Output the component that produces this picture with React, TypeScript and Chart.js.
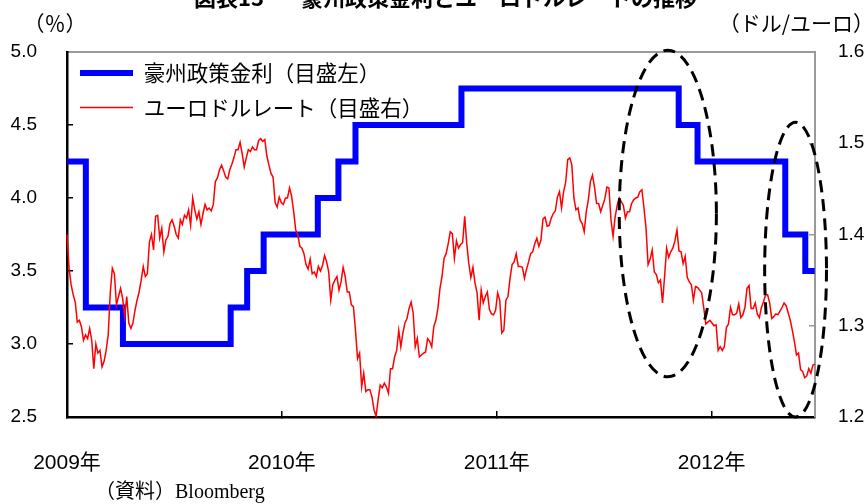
import React, { useEffect, useRef } from "react";
import { Chart, registerables } from "chart.js";

Chart.register(...registerables);

// ---- data ----
const baseDate = "2009-01-01";
const xTickYears = [2009, 2010, 2011, 2012];

// Australian policy rate (%), change dates and new levels
const rateDates = [
  "2009-01-01", "2009-02-02", "2009-04-06", "2009-10-06", "2009-11-03", "2009-12-01",
  "2010-03-03", "2010-04-07", "2010-05-06", "2010-11-02", "2011-11-06", "2011-12-08",
  "2012-05-05", "2012-06-08", "2012-06-24",
];
const rateValues = [4.25, 3.25, 3.0, 3.25, 3.5, 3.75, 4.0, 4.25, 4.5, 4.75, 4.5, 4.25, 3.75, 3.5, 3.5];

// EUR/USD (dollars per euro), sampled twice a week from 2009-01-01
const eurStepDays = 3.5;
const eurValues = [
  1.400, 1.363, 1.345, 1.334, 1.326, 1.304, 1.306, 1.299, 1.284, 1.290,
  1.286, 1.297, 1.284, 1.253, 1.280, 1.270, 1.273, 1.255, 1.261, 1.273,
  1.290, 1.336, 1.363, 1.357, 1.323, 1.332, 1.341, 1.330, 1.310, 1.332,
  1.303, 1.297, 1.303, 1.317, 1.328, 1.337, 1.350, 1.365, 1.354, 1.357,
  1.392, 1.400, 1.383, 1.420, 1.421, 1.396, 1.407, 1.381, 1.394, 1.398,
  1.412, 1.416, 1.409, 1.400, 1.396, 1.416, 1.411, 1.421, 1.418, 1.427,
  1.410, 1.440, 1.427, 1.417, 1.425, 1.411, 1.423, 1.433, 1.427, 1.429,
  1.426, 1.433, 1.458, 1.462, 1.471, 1.476, 1.470, 1.463, 1.461, 1.471,
  1.477, 1.484, 1.493, 1.493, 1.501, 1.489, 1.474, 1.484, 1.493, 1.491,
  1.496, 1.493, 1.493, 1.503, 1.505, 1.502, 1.504, 1.486, 1.476, 1.467,
  1.463, 1.435, 1.430, 1.441, 1.435, 1.433, 1.440, 1.440, 1.451, 1.442,
  1.425, 1.405, 1.400, 1.387, 1.385, 1.379, 1.367, 1.362, 1.373, 1.357,
  1.359, 1.354, 1.365, 1.360, 1.366, 1.377, 1.370, 1.359, 1.328, 1.345,
  1.350, 1.354, 1.339, 1.348, 1.364, 1.354, 1.337, 1.337, 1.323, 1.321,
  1.295, 1.264, 1.270, 1.233, 1.248, 1.228, 1.230, 1.230, 1.222, 1.208,
  1.201, 1.219, 1.235, 1.232, 1.237, 1.233, 1.226, 1.253, 1.253, 1.266,
  1.273, 1.295, 1.277, 1.292, 1.303, 1.308, 1.319, 1.326, 1.314, 1.277,
  1.286, 1.266, 1.268, 1.270, 1.271, 1.286, 1.283, 1.277, 1.299, 1.306,
  1.319, 1.341, 1.354, 1.374, 1.379, 1.390, 1.403, 1.401, 1.374, 1.393,
  1.385, 1.389, 1.391, 1.420, 1.390, 1.368, 1.353, 1.364, 1.347, 1.336,
  1.306, 1.339, 1.325, 1.332, 1.337, 1.318, 1.313, 1.312, 1.317, 1.336,
  1.328, 1.292, 1.295, 1.328, 1.332, 1.352, 1.367, 1.370, 1.379, 1.365,
  1.365, 1.364, 1.352, 1.362, 1.370, 1.379, 1.381, 1.390, 1.396, 1.387,
  1.394, 1.417, 1.419, 1.409, 1.410, 1.418, 1.423, 1.426, 1.441, 1.447,
  1.429, 1.447, 1.457, 1.482, 1.484, 1.476, 1.440, 1.427, 1.429, 1.416,
  1.412, 1.403, 1.425, 1.438, 1.458, 1.465, 1.452, 1.434, 1.434, 1.425,
  1.432, 1.439, 1.452, 1.451, 1.416, 1.398, 1.419, 1.432, 1.440, 1.436,
  1.432, 1.418, 1.425, 1.425, 1.434, 1.438, 1.440, 1.441, 1.447, 1.449,
  1.429, 1.407, 1.367, 1.373, 1.383, 1.359, 1.356, 1.347, 1.350, 1.325,
  1.354, 1.385, 1.375, 1.381, 1.385, 1.393, 1.405, 1.382, 1.381, 1.368,
  1.376, 1.353, 1.348, 1.345, 1.328, 1.343, 1.342, 1.339, 1.336, 1.320,
  1.302, 1.304, 1.306, 1.303, 1.300, 1.301, 1.273, 1.277, 1.273, 1.277,
  1.298, 1.302, 1.320, 1.312, 1.312, 1.314, 1.324, 1.309, 1.312, 1.320,
  1.341, 1.344, 1.319, 1.319, 1.325, 1.313, 1.309, 1.320, 1.326, 1.334,
  1.334, 1.325, 1.308, 1.310, 1.313, 1.312, 1.316, 1.320, 1.325, 1.322,
  1.314, 1.306, 1.295, 1.283, 1.268, 1.270, 1.252, 1.250, 1.243, 1.245,
  1.253, 1.248, 1.257, 1.258,
];

// highlight ellipses: date span and value span on the right axis
const highlightFrom = ["2011-07-28", "2012-03-31"];
const highlightTo = ["2012-01-09", "2012-07-14"];
const highlightLow = [1.244, 1.2];
const highlightHigh = [1.602, 1.523];

const seriesLabels = ["豪州政策金利（目盛左）", "ユーロドルレート（目盛右）"];
const titleHead = "図表13";
const titleBody = "豪州政策金利とユーロドルレートの推移";
const leftUnit = "（％）";
const rightUnit = "（ドル/ユーロ）";
const sourceNote = "（資料）Bloomberg";

// ---- helpers ----
const DAY_MS = 86400000;
const dayOf = (s: string) => {
  const [y, m, d] = s.split("-").map(Number);
  const [by, bm, bd] = baseDate.split("-").map(Number);
  return (Date.UTC(y, m - 1, d) - Date.UTC(by, bm - 1, bd)) / DAY_MS;
};

const SANS = "'Liberation Sans', 'Noto Sans CJK JP', sans-serif";
const CJK = "'Noto Sans CJK JP', sans-serif";

const noSidePadding = (s: any) => {
  s.paddingLeft = 0;
  s.paddingRight = 0;
};

const decorPlugin = {
  id: "decor",
  afterDraw(chart: any) {
    const { ctx } = chart;
    const xs = chart.scales.x;
    const yr = chart.scales.y2;
    ctx.save();
    // dashed ellipses
    ctx.setLineDash([12, 7]);
    ctx.lineWidth = 3;
    ctx.strokeStyle = "#000";
    for (let i = 0; i < highlightFrom.length; i++) {
      const x1 = xs.getPixelForValue(dayOf(highlightFrom[i]));
      const x2 = xs.getPixelForValue(dayOf(highlightTo[i]));
      const y1 = yr.getPixelForValue(highlightHigh[i]);
      const y2 = yr.getPixelForValue(highlightLow[i]);
      ctx.beginPath();
      ctx.ellipse((x1 + x2) / 2, (y1 + y2) / 2, (x2 - x1) / 2, (y2 - y1) / 2, 0, 0, Math.PI * 2);
      ctx.stroke();
    }
    ctx.setLineDash([]);
    // texts
    ctx.fillStyle = "#000";
    ctx.textBaseline = "alphabetic";
    ctx.font = `bold 22px ${CJK}`;
    ctx.textAlign = "left";
    ctx.fillText(titleHead, 194, 6);
    ctx.fillText(titleBody, 301, 6);
    ctx.font = `21px ${CJK}`;
    ctx.textBaseline = "middle";
    ctx.textAlign = "center";
    ctx.fillText(leftUnit, 55, 23);
    ctx.textAlign = "right";
    ctx.fillText(rightUnit, 874, 23);
    ctx.textAlign = "left";
    ctx.font = `20px 'Liberation Serif', 'Noto Sans CJK JP', serif`;
    ctx.fillText(sourceNote, 95, 493);
    ctx.restore();
  },
};

export default function App() {
  const ref = useRef<HTMLCanvasElement | null>(null);

  useEffect(() => {
    if (!ref.current) return;
    const xMax = (eurValues.length - 1) * eurStepDays;
    const rateData = rateDates.map((d, i) => ({ x: dayOf(d), y: rateValues[i] }));
    const eurData = eurValues.map((v, i) => ({ x: i * eurStepDays, y: v }));

    const chart = new Chart(ref.current, {
      type: "line",
      data: {
        datasets: [
          {
            label: seriesLabels[0],
            data: rateData,
            xAxisID: "x",
            yAxisID: "y",
            borderColor: "#0000ff",
            backgroundColor: "#0000ff",
            borderWidth: 6,
            stepped: true,
            pointRadius: 0,
            pointStyle: "line",
            borderJoinStyle: "miter",
            borderCapStyle: "butt",
            order: 1,
          },
          {
            label: seriesLabels[1],
            data: eurData,
            xAxisID: "x",
            yAxisID: "y2",
            borderColor: "#ff0000",
            backgroundColor: "#ff0000",
            borderWidth: 1.5,
            pointRadius: 0,
            pointStyle: "line",
            tension: 0,
            clip: false,
            order: 0,
          },
        ],
      } as any,
      options: {
        animation: false,
        responsive: false,
        maintainAspectRatio: false,
        devicePixelRatio: 1,
        layout: { padding: { top: 52, left: 0, right: 0, bottom: 0 } },
        plugins: {
          title: { display: false },
          tooltip: { enabled: false },
          legend: {
            display: true,
            position: "chartArea" as any,
            align: "start",
            title: { display: true, text: "", font: { size: 1 }, padding: { top: 48, bottom: 0 } },
            labels: {
              usePointStyle: true,
              pointStyleWidth: 53,
              padding: 13,
              color: "#000",
              font: { family: CJK, size: 21.5 },
              sort: (a: any, b: any) => a.datasetIndex - b.datasetIndex,
            },
          },
        },
        scales: {
          x: {
            type: "linear",
            position: "bottom",
            min: 0,
            max: xMax,
            afterFit: (s: any) => { s.height = 87; noSidePadding(s); },
            afterBuildTicks: (s: any) => {
              s.ticks = xTickYears.map((y) => ({ value: dayOf(`${y}-01-01`) }));
            },
            ticks: {
              autoSkip: false,
              maxRotation: 0,
              padding: 40,
              color: "#000",
              font: { family: SANS, size: 21 },
              callback: (_v: any, i: number) => `${xTickYears[i]}年`,
            },
            grid: { display: true, drawOnChartArea: false, drawTicks: true, tickLength: -6, color: "#000", lineWidth: 1.5 },
            border: { display: true, color: "#000", width: 2.5 },
          },
          xTop: {
            type: "linear",
            axis: "x",
            position: "top",
            min: 0,
            max: xMax,
            afterFit: (s: any) => { s.height = 0; noSidePadding(s); },
            ticks: { display: false },
            grid: { display: false, drawTicks: false },
            border: { display: true, color: "#999", width: 2 },
          },
          y: {
            type: "linear",
            position: "left",
            min: 2.5,
            max: 5.0,
            afterFit: (s: any) => { s.width = 67; },
            ticks: {
              stepSize: 0.5,
              padding: 36,
              color: "#000",
              font: { family: SANS, size: 19 },
              callback: (v: any) => Number(v).toFixed(1),
            },
            grid: { display: true, drawOnChartArea: false, drawTicks: true, tickLength: -6, color: "#000", lineWidth: 1.5 },
            border: { display: true, color: "#000", width: 2.5 },
          },
          y2: {
            type: "linear",
            position: "right",
            min: 1.2,
            max: 1.6,
            afterFit: (s: any) => { s.width = 52; },
            ticks: {
              stepSize: 0.1,
              padding: 29,
              color: "#000",
              font: { family: SANS, size: 19 },
              callback: (v: any) => Number(v).toFixed(1),
            },
            grid: { display: true, drawOnChartArea: false, drawTicks: true, tickLength: -6, color: "#999", lineWidth: 1.5 },
            border: { display: true, color: "#999", width: 2 },
          },
        },
      } as any,
      plugins: [decorPlugin],
    });
    return () => chart.destroy();
  }, []);

  return (
    <div style={{ position: "fixed", left: 0, top: 0, width: 867, height: 504, background: "#fff" }}>
      <canvas ref={ref} width={867} height={504} style={{ display: "block" }} />
    </div>
  );
}
